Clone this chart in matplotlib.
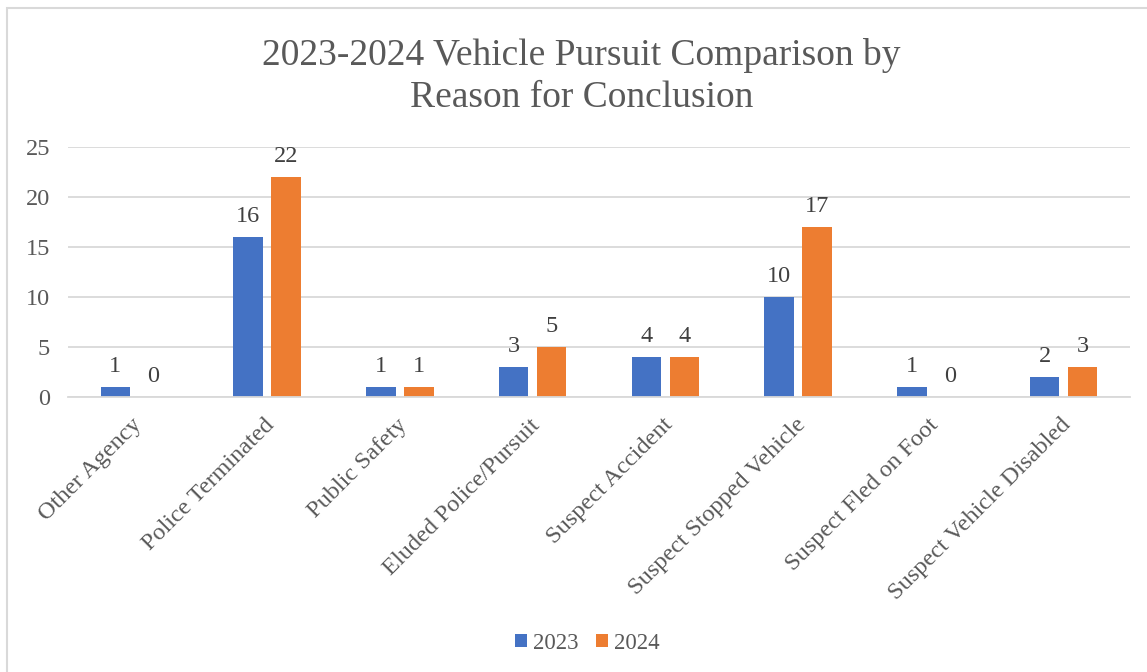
import matplotlib.pyplot as plt
import numpy as np
from matplotlib.patches import Rectangle
from matplotlib.transforms import ScaledTranslation

# Daten aus dem Diagramm
kategorien = [
    "Other Agency",
    "Police Terminated",
    "Public Safety",
    "Eluded Police/Pursuit",
    "Suspect Accident",
    "Suspect Stopped Vehicle",
    "Suspect Fled on Foot",
    "Suspect Vehicle Disabled",
]
werte_2023 = [1, 16, 1, 3, 4, 10, 1, 2]
werte_2024 = [0, 22, 1, 5, 4, 17, 0, 3]
jahre = ["2023", "2024"]
y_ticks = [0, 5, 10, 15, 20, 25]

blau = "#4472c4"
orange = "#ed7d31"
grau_text = "#595959"

plt.rcParams["font.family"] = ["Liberation Serif", "DejaVu Serif"]

fig = plt.figure(figsize=(11.47, 6.72), dpi=100)
ax = fig.add_axes([68 / 1147, 1 - 397 / 672, (1130 - 68) / 1147, 250 / 672])

# Rahmen um das ganze Diagramm
fig.patches.append(
    Rectangle((7 / 1147, -0.01), 1.02, 1 - 8 / 672 + 0.01, transform=fig.transFigure,
              fill=False, edgecolor="#d9d9d9", linewidth=1.5)
)

x = np.arange(len(kategorien))
breite = 0.222
abstand = 0.065
b1 = ax.bar(x - breite / 2 - abstand / 2, werte_2023, breite, color=blau, label=jahre[0])
b2 = ax.bar(x + breite / 2 + abstand / 2, werte_2024, breite, color=orange, label=jahre[1])

for balken in (b1, b2):
    ax.bar_label(balken, padding=7, fontsize=17.5, color="#404040")

ax.set_xlim(-0.5, len(kategorien) - 0.5)
ax.set_ylim(0, 25)
ax.set_yticks(y_ticks)
ax.yaxis.grid(True, color="#d9d9d9", linewidth=1.3)
ax.set_axisbelow(True)
for s in ["top", "right", "left"]:
    ax.spines[s].set_visible(False)
ax.spines["bottom"].set_color("#d9d9d9")
ax.spines["bottom"].set_linewidth(1.3)
ax.tick_params(axis="both", length=0, labelsize=17.5, labelcolor=grau_text)
ax.tick_params(axis="y", pad=13)
ax.set_xticks(x)
ax.set_xticklabels(kategorien, rotation=45, ha="right", va="center", rotation_mode="anchor")
ax.tick_params(axis="x", pad=18)
# Beschriftungen etwas nach rechts schieben
verschiebung = ScaledTranslation(3 / 72, 0, fig.dpi_scale_trans)
for lbl in ax.get_xticklabels():
    lbl.set_transform(lbl.get_transform() + verschiebung)

fig.suptitle("2023-2024 Vehicle Pursuit Comparison by\nReason for Conclusion",
             x=0.507, y=0.944, fontsize=27, color=grau_text, linespacing=1.3)

fig.legend(loc="center", bbox_to_anchor=(0.512, 0.043), ncol=2, frameon=False,
           fontsize=16.5, handlelength=0.5, handleheight=0.5, handletextpad=0.26,
           columnspacing=0.8, labelcolor=grau_text)

fig.savefig("out.png", dpi=100)
